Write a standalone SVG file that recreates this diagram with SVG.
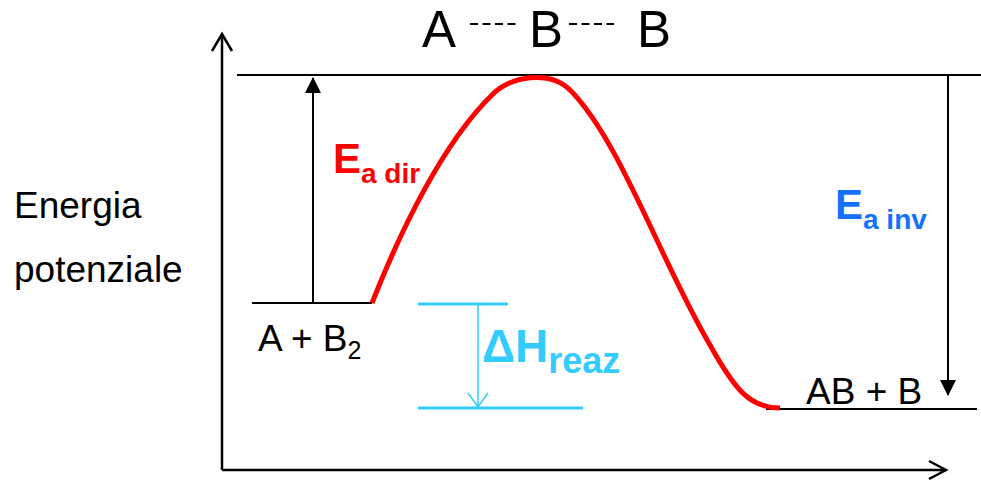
<svg xmlns="http://www.w3.org/2000/svg" width="981" height="482" viewBox="0 0 981 482">
<style>
text{font-family:"Liberation Sans",Arial,sans-serif}
.blk{fill:#000;font-size:37px}
.lvl{stroke:#000;stroke-width:2;fill:none}
.ax{stroke:#000;stroke-width:2.5;fill:none}
.cy{stroke:#33ccff;fill:none}
</style>
<defs>
<marker id="fill" markerWidth="16" markerHeight="16" viewBox="0 0 16 16" refX="15" refY="8" orient="auto" markerUnits="userSpaceOnUse">
<path d="M0,0 L16,8 L0,16 Z" fill="#000"/>
</marker>
</defs>
<g id="axes">
<path class="ax" d="M222,470 V34"/>
<path class="ax" d="M212,51 L222,34 L232,51"/>
<path class="ax" d="M222,470 H946"/>
<path class="ax" d="M929,461 L946,470 L929,479"/>
</g>
<g id="labels-y">
<text class="blk" x="14" y="218">Energia</text>
<text class="blk" x="14" y="282">potenziale</text>
</g>
<g id="transition-state">
<text x="422" y="47" style="font-size:51px">A</text>
<text x="529" y="47" style="font-size:51px">B</text>
<text x="637" y="47" style="font-size:51px">B</text>
</g>
<g id="levels">
<path class="lvl" d="M237,75 H981"/>
<path class="lvl" d="M252,303 H372"/>
<path class="lvl" d="M766,409 H977"/>
</g>
<g id="reactants">
<text class="blk" x="258" y="351">A + B<tspan font-size="25" dy="8">2</tspan></text>
</g>
<g id="products">
<text class="blk" x="806" y="404">AB + B</text>
</g>
<g id="curve">
<path d="M372,303 C400,232 443,142 493,94 C510,76 550,70 570,90 C620,140 660,260 710,345 C735,390 750,408 780,408" stroke="#ff0000" stroke-width="5" fill="none" stroke-linecap="butt"/>
</g>
<g id="connectors">
<path d="M470,24 H516 M569,24 H614" stroke="#000" stroke-width="1.8" stroke-dasharray="8,4.5"/>
<path class="lvl" d="M313,303 V78" marker-end="url(#fill)"/>
<path class="lvl" d="M948,75 V395" marker-end="url(#fill)"/>
<path class="cy" stroke-width="3" d="M418,304 H508 M418,408 H583"/>
<path class="cy" stroke-width="1.5" d="M478,304 V407 M468,393 L478,407 L488,393"/>
</g>
<g id="ea-dir">
<text x="333" y="173" fill="#ff0000" font-weight="bold" font-size="42">E<tspan font-size="28" dy="10">a dir</tspan></text>
</g>
<g id="ea-inv">
<text x="835" y="219" fill="#1670ff" font-weight="bold" font-size="42">E<tspan font-size="28" dy="10">a inv</tspan></text>
</g>
<g id="dh">
<text x="482" y="362" fill="#33ccff" font-weight="bold" font-size="46">ΔH<tspan font-size="36" dy="11">reaz</tspan></text>
</g>
</svg>
